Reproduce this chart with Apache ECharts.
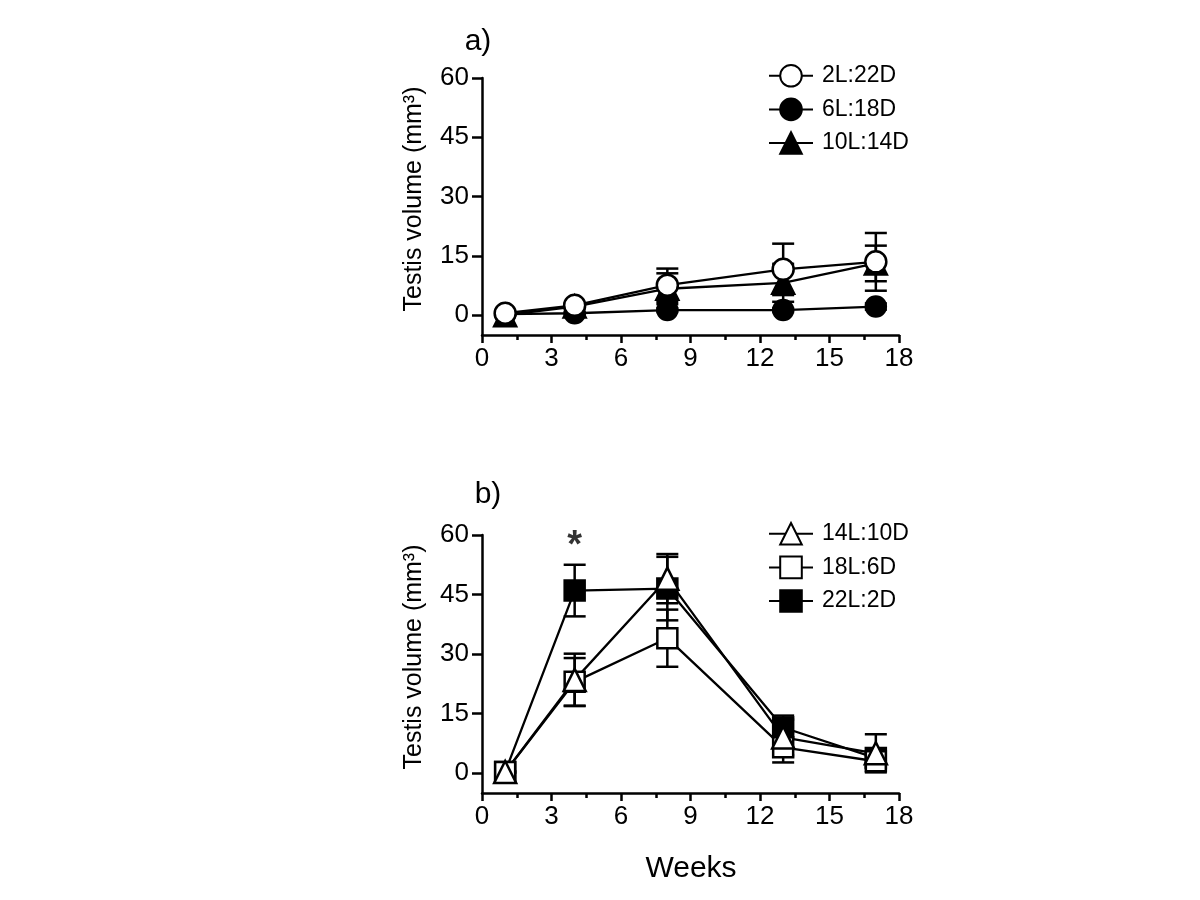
<!DOCTYPE html>
<html>
<head>
<meta charset="utf-8">
<script src="https://cdn.jsdelivr.net/npm/echarts@6/dist/echarts.min.js"></script>
<style>html,body{margin:0;padding:0;background:#fff}#c{width:1200px;height:900px}</style>
</head>
<body>
<div id="c"></div>
<script>
// ---- data ----
var weeks = [1, 4, 8, 13, 17];
var xTicks = [0, 3, 6, 9, 12, 15, 18];
var yTicks = [0, 15, 30, 45, 60];

// panel a
var a_2L22D = [0.5, 2.5, 7.6, 11.6, 13.5];
var a_2L22D_err = [0.3, 0.5, 4.2, 6.5, 7.3];
var a_6L18D = [0.3, 0.5, 1.3, 1.3, 2.2];
var a_6L18D_err = [0.1, 0.2, 0.5, 0.5, 0.8];
var a_10L14D = [0.0, 2.2, 6.7, 8.2, 13.1];
var a_10L14D_err = [0.1, 0.5, 3.9, 4.8, 4.5];

// panel b
var b_14L10D = [0.3, 23.5, 49.0, 9.0, 5.0];
var b_14L10D_err = [0.2, 6.6, 6.2, 4.5, 4.8];
var b_18L6D = [0.3, 23.0, 34.0, 6.5, 3.0];
var b_18L6D_err = [0.2, 6.0, 7.2, 3.8, 1.5];
var b_22L2D = [0.3, 46.0, 46.5, 11.5, 3.8];
var b_22L2D_err = [0.2, 6.5, 8.0, 3.0, 1.5];

var asterisk = [[4, 57.0]];

// ---- helpers ----
var FONT = 'Liberation Sans, Arial, sans-serif';
function pts(vals) { return weeks.map(function (w, i) { return [w, vals[i]]; }); }
function errs(vals, e) { return weeks.map(function (w, i) { return [w, vals[i], e[i]]; }); }

function errRender(params, api) {
  var x = api.value(0), m = api.value(1), e = api.value(2);
  var t = api.coord([x, m + e]), b = api.coord([x, m - e]);
  var hw = 11, st = { stroke: '#000', lineWidth: 2.5 };
  return { type: 'group', children: [
    { type: 'line', shape: { x1: t[0], y1: t[1], x2: b[0], y2: b[1] }, style: st },
    { type: 'line', shape: { x1: t[0] - hw, y1: t[1], x2: t[0] + hw, y2: t[1] }, style: st },
    { type: 'line', shape: { x1: b[0] - hw, y1: b[1], x2: b[0] + hw, y2: b[1] }, style: st }
  ]};
}

function xAx(gi) {
  return {
    type: 'value', gridIndex: gi, min: 0, max: 18, interval: 3,
    axisLine: { onZero: false, lineStyle: { color: '#000', width: 2.5 } },
    axisTick: { length: 8, lineStyle: { color: '#000', width: 2.5 } },
    minorTick: { show: true, splitNumber: 2, length: 5, lineStyle: { color: '#000', width: 2.5 } },
    splitLine: { show: false },
    axisLabel: { color: '#000', fontSize: 26, fontFamily: FONT, margin: 11 }
  };
}
function yAx(gi) {
  return {
    type: 'value', gridIndex: gi, min: -5, max: 60,
    axisLine: { onZero: false, lineStyle: { color: '#000', width: 2.5 } },
    axisTick: { length: 10, customValues: yTicks, lineStyle: { color: '#000', width: 2.5 } },
    splitLine: { show: false },
    axisLabel: { color: '#000', fontSize: 26, fontFamily: FONT, margin: 13, customValues: yTicks }
  };
}
function lineSeries(name, gi, vals, symbol, filled, size) {
  return {
    name: name, type: 'line', xAxisIndex: gi, yAxisIndex: gi, data: pts(vals),
    symbol: symbol, symbolSize: size, showAllSymbol: true, z: 3,
    lineStyle: { color: '#000', width: 2.3 },
    itemStyle: { color: filled ? '#000' : '#fff', borderColor: '#000', borderWidth: 2.5, opacity: 1 },
    emphasis: { disabled: true }, animation: false
  };
}
function errSeries(gi, vals, e) {
  return {
    type: 'custom', xAxisIndex: gi, yAxisIndex: gi, data: errs(vals, e),
    renderItem: errRender, z: 2, silent: true, animation: false,
    encode: { x: 0, y: [1, 2] }
  };
}
function legend(top, names) {
  return {
    orient: 'vertical', left: 763, top: top, itemWidth: 44, itemHeight: 27, itemGap: 10,
    data: names, selectedMode: false,
    textStyle: { color: '#000', fontSize: 23, fontFamily: FONT, padding: [0, 0, 0, 4] }
  };
}

var option = {
  backgroundColor: '#fff',
  animation: false,
  grid: [
    { left: 482, right: 301, top: 78, bottom: 565, containLabel: false, outerBoundsMode: 'none' },
    { left: 482, right: 301, top: 535, bottom: 107, containLabel: false, outerBoundsMode: 'none' }
  ],
  xAxis: [xAx(0), xAx(1)],
  yAxis: [yAx(0), yAx(1)],
  legend: [
    legend(59, ['2L:22D', '6L:18D', '10L:14D']),
    legend(517, ['14L:10D', '18L:6D', '22L:2D'])
  ],
  graphic: [
    { type: 'text', x: 478, y: 42, style: { text: 'a)', font: '30px ' + FONT, fill: '#000', textAlign: 'center', textVerticalAlign: 'middle' } },
    { type: 'text', x: 488, y: 495, style: { text: 'b)', font: '30px ' + FONT, fill: '#000', textAlign: 'center', textVerticalAlign: 'middle' } },
    { type: 'text', x: 414, y: 199, rotation: Math.PI / 2, style: { text: 'Testis volume (mm³)', font: '25px ' + FONT, fill: '#000', textAlign: 'center', textVerticalAlign: 'middle' } },
    { type: 'text', x: 414, y: 657, rotation: Math.PI / 2, style: { text: 'Testis volume (mm³)', font: '25px ' + FONT, fill: '#000', textAlign: 'center', textVerticalAlign: 'middle' } },
    { type: 'text', x: 691, y: 869, style: { text: 'Weeks', font: '30px ' + FONT, fill: '#000', textAlign: 'center', textVerticalAlign: 'middle' } }
  ],
  series: [
    errSeries(0, a_2L22D, a_2L22D_err),
    errSeries(0, a_6L18D, a_6L18D_err),
    errSeries(0, a_10L14D, a_10L14D_err),
    lineSeries('6L:18D', 0, a_6L18D, 'circle', true, 20),
    lineSeries('10L:14D', 0, a_10L14D, 'triangle', true, 22),
    lineSeries('2L:22D', 0, a_2L22D, 'circle', false, 21),
    errSeries(1, b_14L10D, b_14L10D_err),
    errSeries(1, b_18L6D, b_18L6D_err),
    errSeries(1, b_22L2D, b_22L2D_err),
    lineSeries('22L:2D', 1, b_22L2D, 'rect', true, 20),
    lineSeries('18L:6D', 1, b_18L6D, 'rect', false, 20),
    lineSeries('14L:10D', 1, b_14L10D, 'triangle', false, 22),
    {
      type: 'scatter', xAxisIndex: 1, yAxisIndex: 1, data: asterisk, symbolSize: 1,
      itemStyle: { color: 'transparent' }, silent: true, z: 5,
      label: { show: true, position: 'inside', formatter: '*', color: '#000', fontSize: 38, fontWeight: 'bold', fontFamily: FONT }
    }
  ]
};
var chart = echarts.init(document.getElementById('c'), null, { renderer: 'canvas' });
chart.setOption(option);
</script>
</body>
</html>
